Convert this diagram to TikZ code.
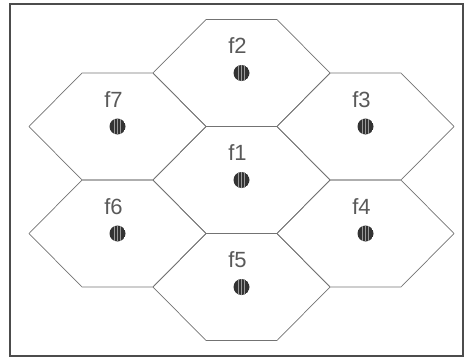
\documentclass[tikz,border=0pt]{standalone}
\usepackage{fontspec}
\setmainfont{Liberation Sans}
\begin{document}
\begin{tikzpicture}[x=1pt,y=-1pt,
  frame/.style={draw=black!70,line width=1.2pt},
  hexline/.style={draw=black!55,line width=0.7pt,line join=miter},
  celllabel/.style={inner sep=0pt,font=\fontsize{22}{22}\selectfont,text=black!65},
  dotfill/.style={fill=black!80,draw=none},
  stripe/.style={draw=black!40,line width=0.7pt}]
\useasboundingbox (0,0) rectangle (464,359);
\draw[frame] (10,4) rectangle (463,356);
\foreach \n/\cx/\cy in {1/241.5/180,2/241.5/73,3/365.5/126.5,4/365.5/233.5,5/241.5/287,6/117.5/233.5,7/117.5/126.5}{
  \draw[hexline] (\cx-88.5,\cy) -- (\cx-35.5,\cy-53.5) -- (\cx+35.5,\cy-53.5) -- (\cx+88.5,\cy)
     -- (\cx+35.5,\cy+53.5) -- (\cx-35.5,\cy+53.5) -- cycle;
  \node[celllabel] (lab\n) at (\cx-4,\cy-27) {f\n};
  \coordinate (dot\n) at (\cx,\cy);
  \begin{scope}
    \clip (dot\n) circle[radius=8];
    \fill[dotfill] (dot\n) circle[radius=8];
    \foreach \dx in {-3,0,3}{\draw[stripe] (\cx+\dx,\cy-9) -- (\cx+\dx,\cy+9);}
  \end{scope}
}
\end{tikzpicture}
\end{document}
